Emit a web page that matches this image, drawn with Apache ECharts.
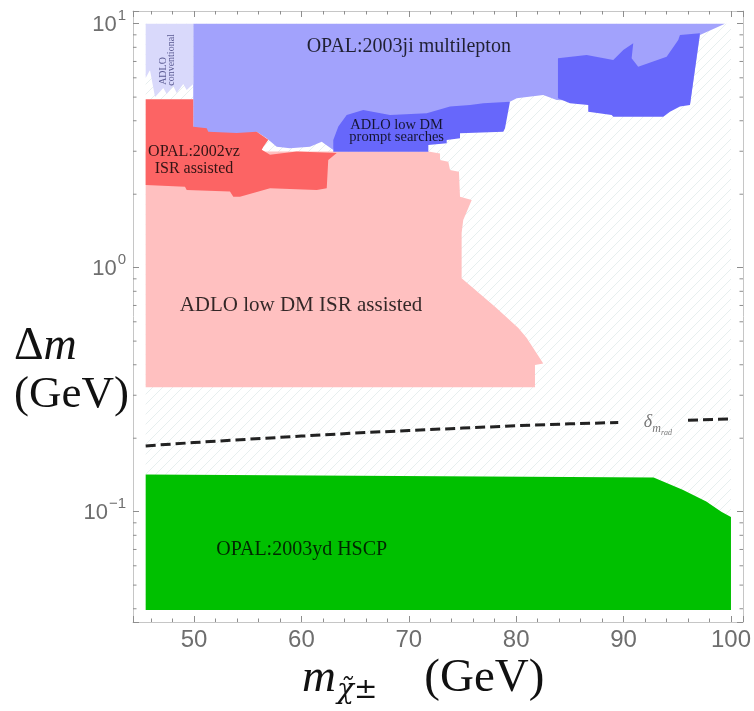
<!DOCTYPE html>
<html><head><meta charset="utf-8">
<script src="https://cdn.jsdelivr.net/npm/echarts@6/dist/echarts.min.js"></script>
<style>html,body{margin:0;padding:0;background:#fff}#c{width:754px;height:711px}</style>
</head><body><div id="c"></div>
<script>
// ---- axis ranges ----
const X_MIN = 44.32, X_MAX = 101.12;
const Y_MIN = 0.0353, Y_MAX = 11.27;
const yMinorTicks = [0.04,0.05,0.06,0.07,0.08,0.09,0.2,0.3,0.4,0.5,0.6,0.7,0.8,0.9,2,3,4,5,6,7,8,9];

// ---- regions (m_chi in GeV, Delta m in GeV) ----
const hatchX = [45.5, 100, 100, 45.5];
const hatchY = [0.0395, 0.0395, 10, 10];

const pinkX = [45.5, 45.5, 71.82, 72.91, 72.91, 73.68, 73.84, 74.67, 74.77, 75.86, 75.07, 74.92, 74.92, 78.03, 80.20, 80.98, 82.52, 81.75, 81.75];
const pinkY = [0.3234, 2.99, 2.99, 2.94, 2.764, 2.72, 2.514, 2.474, 1.954, 1.894, 1.569, 1.388, 0.905, 0.692, 0.566, 0.515, 0.405, 0.399, 0.3234];

const lightBlueX = [49.93, 99.44, 97.11, 96.18, 83.77, 82.52, 80.05, 79.42, 63.59, 62.97, 61.89, 60.80, 58.94, 57.70, 56.77, 55.84, 53.35, 49.93];
const lightBlueY = [10, 10, 8.99, 4.644, 4.868, 5.104, 4.947, 4.79, 3.67, 3.037, 3.284, 3.133, 3.086, 3.133, 3.391, 3.61, 3.337, 3.337];

const redX = [45.5, 49.93, 49.93, 51.18, 51.33, 53.98, 55.84, 56.92, 56.46, 56.31, 57.08, 58.01, 59.56, 63.29, 62.50, 62.36, 61.43, 57.08, 54.28, 53.66, 53.35, 49.32, 49.16, 45.5];
const redY = [4.90, 4.90, 3.78, 3.73, 3.61, 3.56, 3.61, 3.34, 3.13, 3.04, 2.90, 2.94, 2.99, 2.95, 2.76, 2.115, 2.08, 2.115, 1.954, 1.954, 2.05, 2.08, 2.148, 2.18];

const promptLeftX = [62.97, 62.97, 63.44, 64.22, 65.76, 68.25, 71.67, 73.84, 75.70, 76.94, 79.42, 78.96, 78.80, 74.77, 74.77, 73.53, 73.53, 71.82, 71.82];
const promptLeftY = [2.988, 3.337, 3.785, 4.225, 4.43, 4.225, 4.295, 4.571, 4.644, 4.719, 4.79, 3.727, 3.61, 3.555, 3.391, 3.337, 3.235, 3.184, 2.988];

const promptRightX = [83.89, 86.56, 89.04, 89.97, 90.90, 90.75, 91.36, 94.01, 95.09, 95.25, 97.11, 96.18, 95.25, 94.32, 93.70, 89.04, 88.89, 86.71, 86.71, 85.01, 83.89];
const promptRightY = [7.215, 7.44, 7.10, 7.80, 8.31, 7.215, 6.665, 7.32, 8.58, 8.99, 9.135, 4.644, 4.571, 4.358, 4.157, 4.157, 4.225, 4.358, 4.644, 4.719, 4.947];

const conventionalX = [45.5, 49.93, 49.93, 49.32, 49.0, 48.39, 48.07, 47.46, 47.14, 46.37, 45.90, 45.5];
const conventionalY = [10, 10, 5.66, 5.35, 5.66, 5.2, 5.55, 5.15, 5.45, 5.01, 6.46, 5.99];

const greenX = [45.5, 45.5, 92.8, 95.5, 97.7, 99.1, 100, 100];
const greenY = [0.0395, 0.142, 0.138, 0.123, 0.110, 0.100, 0.095, 0.0395];

// delta m_rad curve (two pieces, broken by its label)
const radX1 = [45.5, 50, 55, 60, 65, 70, 75, 80, 85, 89.5];
const radY1 = [0.186, 0.192, 0.198, 0.204, 0.210, 0.215, 0.220, 0.225, 0.229, 0.232];
const radX2 = [96, 100];
const radY2 = [0.237, 0.240];

// ---- labels ----
const SERIF = 'Liberation Serif, DejaVu Serif, serif';
const TXT = 'rgba(0,0,0,0.8)';
const labels = [
  {text: 'OPAL:2003ji multilepton', x: 70.0, y: 8.05, size: 20},
  {text: 'ADLO low DM\nprompt searches', x: 68.87, y: 3.62, size: 14.5, lh: 12},
  {text: 'OPAL:2002vz\nISR assisted', x: 50.0, y: 2.76, size: 16, lh: 17},
  {text: 'ADLO low DM ISR assisted', x: 59.96, y: 0.703, size: 21},
  {text: 'OPAL:2003yd HSCP', x: 60.03, y: 0.0697, size: 20},
  {text: 'ADLO', x: 47.14, y: 6.40, size: 10, rot: Math.PI / 2, color: '#5a5a92'},
  {text: 'conventional', x: 47.92, y: 7.10, size: 10, rot: Math.PI / 2, color: '#5a5a92'},
  {text: '{d|δ}{s|m}{ss|rad}', x: 93.2, y: 0.232, size: 17, color: '#777', rich: {
    d: {fontSize: 18, fontStyle: 'italic', fontFamily: SERIF, color: '#777', lineHeight: 18, verticalAlign: 'top'},
    s: {fontSize: 12, fontStyle: 'italic', fontFamily: SERIF, color: '#777', lineHeight: 12, padding: [9, 0, 0, 0], verticalAlign: 'top'},
    ss: {fontSize: 8, fontStyle: 'italic', fontFamily: SERIF, color: '#777', lineHeight: 8, padding: [15, 0, 0, 0], verticalAlign: 'top'}
  }}
];

// ---- helpers ----
function hatchPattern() {
  const c = document.createElement('canvas');
  c.width = 10; c.height = 10;
  const g = c.getContext('2d');
  g.strokeStyle = '#e7efef';
  g.lineWidth = 1;
  g.beginPath();
  g.moveTo(0, 10); g.lineTo(10, 0);
  g.moveTo(-1, 1); g.lineTo(1, -1);
  g.moveTo(9, 11); g.lineTo(11, 9);
  g.stroke();
  return c;
}
function polySeries(name, xs, ys, fill, z) {
  return {
    type: 'custom', name: name, z: z, silent: true,
    data: [[xs[0], ys[0]]],
    renderItem: function (params, api) {
      const pts = xs.map(function (x, i) { return api.coord([x, ys[i]]); });
      return {type: 'polygon', shape: {points: pts}, style: {fill: fill}};
    }
  };
}

const FRAME = '#c6c6c6', TICK = '#8e8e8e', LAB = '#6e6e6e';
const xCommon = {
  type: 'value', min: X_MIN, max: X_MAX, splitNumber: 5,
  axisLine: {show: true, onZero: false, lineStyle: {color: FRAME, width: 1}},
  axisTick: {show: true, inside: true, length: 6, lineStyle: {color: TICK}},
  minorTick: {show: true, splitNumber: 5, length: 3.5, lineStyle: {color: TICK}},
  splitLine: {show: false}, minorSplitLine: {show: false}
};
const yCommon = {
  type: 'log', logBase: 10, min: Y_MIN, max: Y_MAX,
  axisLine: {show: true, onZero: false, lineStyle: {color: FRAME, width: 1}},
  axisTick: {show: true, inside: true, length: 6, lineStyle: {color: TICK}},
  splitLine: {show: false}
};

const chart = echarts.init(document.getElementById('c'), null, {renderer: 'canvas'});
const option = {
  animation: false,
  backgroundColor: '#fff',
  grid: {left: 133, right: 11, top: 11, bottom: 89, containLabel: false},
  xAxis: [
    Object.assign({}, xCommon, {position: 'bottom',
      axisLabel: {margin: 6, fontSize: 24, color: LAB, fontFamily: 'Liberation Sans, Arial, sans-serif',
        formatter: function (v) { return Math.abs(v / 10 - Math.round(v / 10)) < 1e-6 ? String(Math.round(v)) : ''; }}}),
    Object.assign({}, xCommon, {position: 'top', axisLabel: {show: false}})
  ],
  yAxis: [
    Object.assign({}, yCommon, {position: 'left',
      axisLabel: {margin: 7, color: LAB,
        formatter: function (v) {
          const e = Math.log10(v), r = Math.round(e);
          if (Math.abs(e - r) > 1e-6) return '';
          return '{b|10}{s|' + (r < 0 ? '\u2212' + (-r) : r) + '}';
        },
        rich: {
          b: {fontSize: 22, fontFamily: 'Liberation Sans, Arial, sans-serif', color: LAB, lineHeight: 24, verticalAlign: 'bottom'},
          s: {fontSize: 15, fontFamily: 'Liberation Sans, Arial, sans-serif', color: LAB, lineHeight: 15, verticalAlign: 'bottom', padding: [0, 0, 12, 1]}
        }}}),
    Object.assign({}, yCommon, {position: 'right', axisLabel: {show: false}})
  ],
  series: [
    {
      type: 'custom', name: 'hatch', z: 1, silent: true,
      data: [[hatchX[0], hatchY[0]]],
      renderItem: function (params, api) {
        const pts = hatchX.map(function (x, i) { return api.coord([x, hatchY[i]]); });
        return {type: 'polygon', shape: {points: pts}, style: {fill: {image: hatchPattern(), repeat: 'repeat'}}};
      }
    },
    polySeries('ADLO low DM ISR assisted', pinkX, pinkY, '#ffc0c0', 2),
    polySeries('OPAL:2003ji multilepton', lightBlueX, lightBlueY, '#a2a2fc', 3),
    polySeries('OPAL:2002vz ISR assisted', redX, redY, '#fc6464', 4),
    polySeries('ADLO low DM prompt searches', promptLeftX, promptLeftY, '#6767fb', 5),
    polySeries('ADLO low DM prompt searches 2', promptRightX, promptRightY, '#6767fb', 5),
    polySeries('ADLO conventional', conventionalX, conventionalY, '#d9d9fb', 5),
    polySeries('OPAL:2003yd HSCP', greenX, greenY, '#00c000', 6),
    {type: 'line', z: 7, silent: true, symbol: 'none', data: radX1.map(function (x, i) { return [x, radY1[i]]; }),
      lineStyle: {color: '#222', width: 3, type: [10, 5]}},
    {type: 'line', z: 7, silent: true, symbol: 'none', data: radX2.map(function (x, i) { return [x, radY2[i]]; }),
      lineStyle: {color: '#222', width: 3, type: [10, 5]}},
    {
      type: 'custom', name: 'minorY', z: 8, silent: true,
      data: yMinorTicks.map(function (v) { return [X_MIN, v]; }),
      renderItem: function (params, api) {
        const v = yMinorTicks[params.dataIndex];
        const a = api.coord([X_MIN, v]), b = api.coord([X_MAX, v]);
        return {type: 'group', children: [
          {type: 'line', shape: {x1: a[0], y1: a[1], x2: a[0] + 3.5, y2: a[1]}, style: {stroke: TICK, lineWidth: 1}},
          {type: 'line', shape: {x1: b[0], y1: b[1], x2: b[0] - 3.5, y2: b[1]}, style: {stroke: TICK, lineWidth: 1}}
        ]};
      }
    },
    {
      type: 'custom', name: 'labels', z: 9, silent: true,
      data: labels.map(function (l) { return [l.x, l.y]; }),
      renderItem: function (params, api) {
        const L = labels[params.dataIndex];
        const p = api.coord([L.x, L.y]);
        const st = {text: L.text, fill: L.color || TXT, fontSize: L.size, fontFamily: SERIF,
          align: 'center', verticalAlign: 'middle'};
        if (L.lh) st.lineHeight = L.lh;
        if (L.rich) st.rich = L.rich;
        return {type: 'text', x: p[0], y: p[1], rotation: L.rot || 0, style: st};
      }
    }
  ],
  graphic: [
    {type: 'text', left: 14, top: 324, style: {text: '{d|\u0394}{m|m}', rich: {
      d: {fontSize: 46, fontFamily: SERIF, fill: '#111'},
      m: {fontSize: 46, fontFamily: SERIF, fontStyle: 'italic', fill: '#111'}}}},
    {type: 'text', left: 14, top: 373, style: {text: '(GeV)', fontSize: 45, fontFamily: SERIF, fill: '#111'}},
    {type: 'text', left: 302, top: 655, style: {text: '{m|m}{sub|\u03c7\u0303\u00b1}{g|    (GeV)}', rich: {
      m: {fontSize: 47, fontFamily: SERIF, fontStyle: 'italic', fill: '#111', lineHeight: 50, verticalAlign: 'top'},
      sub: {fontSize: 28, fontFamily: 'DejaVu Serif, serif', fontStyle: 'italic', fill: '#111', lineHeight: 28, verticalAlign: 'top', padding: [22, 0, 0, 1]},
      g: {fontSize: 47, fontFamily: SERIF, fill: '#111', lineHeight: 50, verticalAlign: 'top'}}}}
  ]
};
chart.setOption(option);
</script>
</body></html>
